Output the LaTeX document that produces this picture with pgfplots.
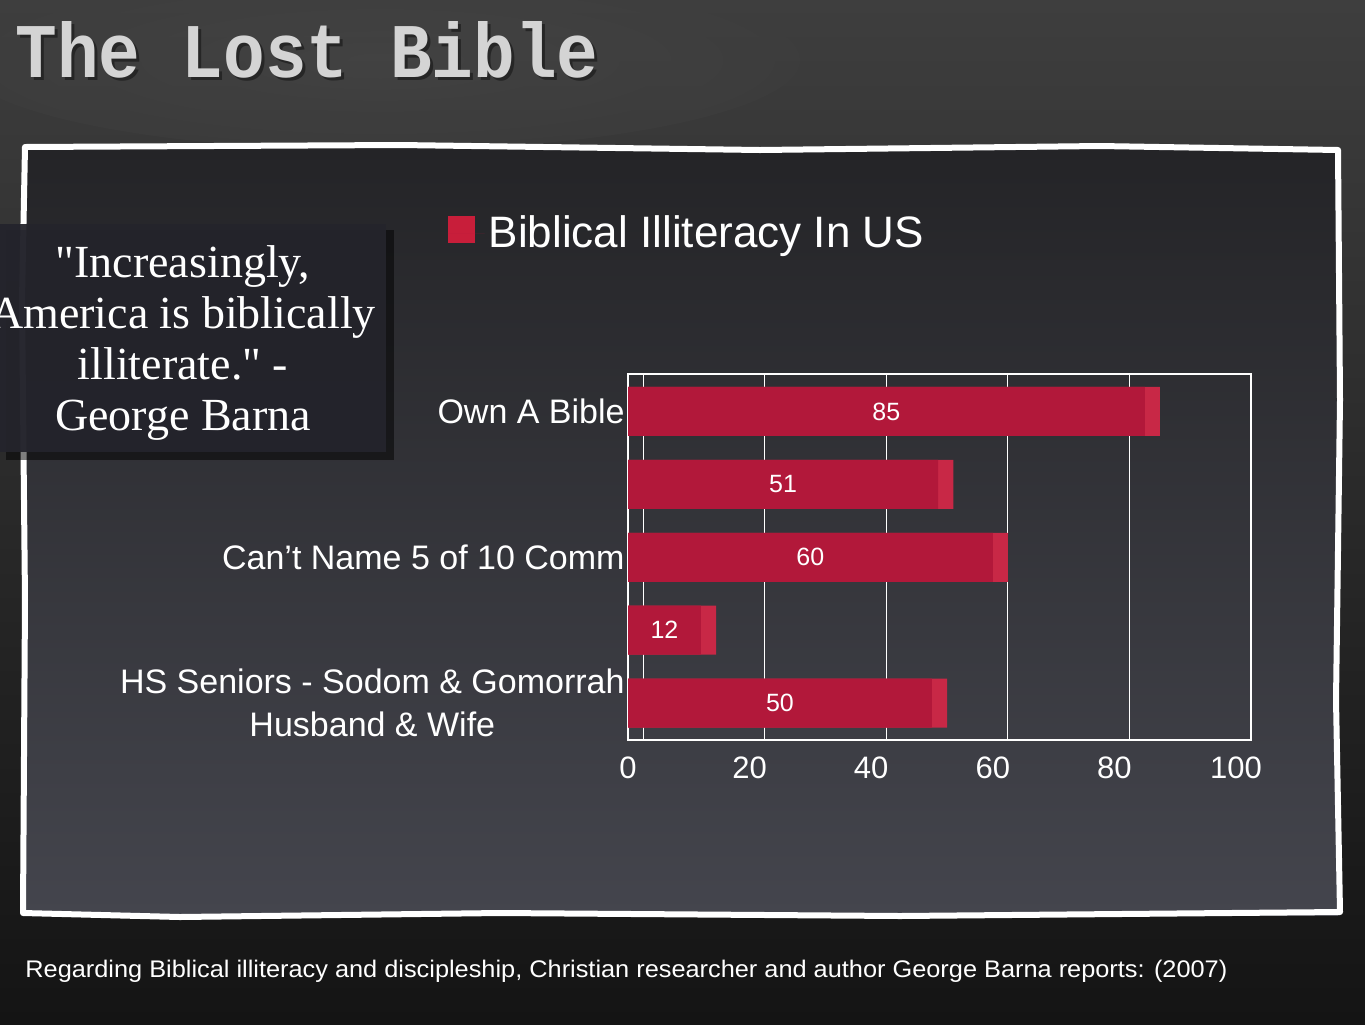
\documentclass[border=0pt]{standalone}
\usepackage{fontspec}
\setmainfont{Liberation Sans}
\newfontfamily\quotefont{Liberation Serif}
\newfontfamily\titlefont{Liberation Mono}
\usepackage{graphicx}
\usepackage{pgfplots}
\pgfplotsset{compat=1.18}

\definecolor{bgtop}{RGB}{62,62,62}
\definecolor{bgbot}{RGB}{20,20,20}
\definecolor{paneltop}{RGB}{36,36,39}
\definecolor{panelmid}{RGB}{56,57,63}
\definecolor{panelbot}{RGB}{68,69,77}
\definecolor{quotebox}{RGB}{36,36,44}
\definecolor{barred}{RGB}{178,24,58}
\definecolor{sidered}{RGB}{200,40,70}
\definecolor{legred}{RGB}{200,30,58}
\definecolor{titlegray}{RGB}{212,212,212}

\begin{document}
\begin{tikzpicture}[x=0.5pt,y=-0.5pt]
\useasboundingbox (0,0) rectangle (1365,1024);
% slide background
\shade[top color=bgtop, bottom color=bgbot] (0,0) rectangle (1365,1024);
\shade[inner color=gray!55!black, outer color=bgtop, opacity=0.6] (380,60) ellipse (420 and 90);
% framed panel
\shade[top color=paneltop, middle color=panelmid, bottom color=panelbot] (25,148) rectangle (1338,915);
\draw[white, line width=3pt, line join=round] (25,147) -- (400,145) -- (760,150) -- (1100,146) -- (1338,150)
  -- (1340,400) -- (1336,700) -- (1340,912) -- (900,916) -- (500,913) -- (180,917) -- (23,913) -- (25,600) -- (22,300) -- cycle;

% title
\node[anchor=south west, inner sep=0pt, text=black!85] at (18,82)
  {\resizebox{291.5pt}{28pt}{\titlefont\bfseries The Lost Bible}};
\node[anchor=south west, inner sep=0pt, text=titlegray] at (15,79)
  {\resizebox{291.5pt}{28pt}{\titlefont\bfseries The Lost Bible}};

% quote box
\fill[black, opacity=0.5] (6,230) rectangle (394,460);
\fill[quotebox, opacity=0.95] (0,224) rectangle (386,452);
\node[text=white, align=center, inner sep=0pt, font=\quotefont\fontsize{23}{25.5}\selectfont]
  at (183,343) {"Increasingly,\\America is biblically\\illiterate." -\\George Barna};

% footer
\node[anchor=base west, inner sep=0pt, text=white] at (25,977)
  {\resizebox{601pt}{\height}{\fontsize{12}{14}\selectfont Regarding Biblical illiteracy and discipleship, Christian researcher and author George Barna reports: (2007)}};

\begin{axis}[
  at={(314pt,-370pt)}, anchor=south west,
  scale only axis, width=311.5pt, height=183pt,
  xmin=0, xmax=102.47, ymin=-0.514, ymax=4.506, y dir=reverse,
  /pgf/number format/assume math mode=true,
  axis line style={white, line width=0.6pt},
  tick style={draw=none},
  xtick={0,20,40,60,80,100},
  extra x ticks={2.47,22.47,42.47,62.47,82.47},
  extra x tick labels={},
  extra x tick style={grid=major, major grid style={white, line width=0.5pt}},
  ytick={0,2,4},
  yticklabels={Own A Bible, Can’t Name 5 of 10 Comm, {HS Seniors - Sodom \& Gomorrah\\Husband \& Wife}},
  xticklabel style={text=white, font=\fontsize{15.5}{18}\selectfont, yshift=-5pt},
  yticklabel style={text=white, align=center, font=\fontsize{17}{21.5}\selectfont, inner sep=1.5pt},
  legend style={at={(-0.29,1.385)}, anchor=west, draw=none, fill=none, text=white,
    font=\fontsize{22}{26}\selectfont, inner sep=0pt},
  legend image code/.code={\fill[legred] (0pt,-4.8pt) rectangle (13.5pt,8.6pt);
    \path (0pt,0pt) -- (18.5pt,0pt);},
]
\addplot[xbar, bar width=0.672, bar shift=0pt, fill=sidered, draw=none, forget plot]
  coordinates {(87.5,0) (53.5,1) (62.5,2) (14.5,3) (52.5,4)};
\addplot[xbar, bar width=0.672, bar shift=0pt, fill=barred, draw=none,
  point meta=x, nodes near coords,
  visualization depends on={x \as \rawx},
  every node near coord/.append style={anchor=center, text=white,
    font=\fontsize{12.5}{14}\selectfont, shift={(axis direction cs:-\rawx/2,0)}}]
  coordinates {(85,0) (51,1) (60,2) (12,3) (50,4)};
\addlegendentry{Biblical Illiteracy In US}
\end{axis}
\end{tikzpicture}
\end{document}
